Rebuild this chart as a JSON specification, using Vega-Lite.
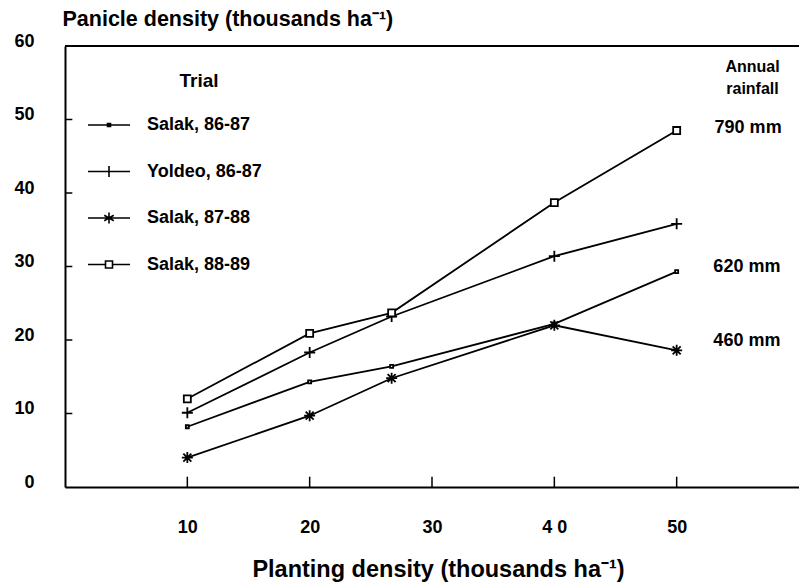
{
  "$schema": "https://vega.github.io/schema/vega-lite/v6.json",
  "width": 734,
  "height": 441,
  "autosize": "none",
  "padding": {"left": 65, "top": 46, "right": 0, "bottom": 100},
  "background": "white",
  "config": {
    "view": {"stroke": null},
    "font": "Liberation Sans",
    "axis": {"labelFlush": false, "labelOverlap": false, "labelBound": false}
  },
  "datasets": {
    "series": [
      {"trial": "Salak, 86-87", "density": 10, "panicles": 8.2},
      {"trial": "Salak, 86-87", "density": 20, "panicles": 14.3},
      {"trial": "Salak, 86-87", "density": 26.7, "panicles": 16.4},
      {"trial": "Salak, 86-87", "density": 40, "panicles": 22.2},
      {"trial": "Salak, 86-87", "density": 50, "panicles": 29.3},
      {"trial": "Yoldeo, 86-87", "density": 10, "panicles": 10.1},
      {"trial": "Yoldeo, 86-87", "density": 20, "panicles": 18.3},
      {"trial": "Yoldeo, 86-87", "density": 26.7, "panicles": 23.2},
      {"trial": "Yoldeo, 86-87", "density": 40, "panicles": 31.4},
      {"trial": "Yoldeo, 86-87", "density": 50, "panicles": 35.8},
      {"trial": "Salak, 87-88", "density": 10, "panicles": 4.0},
      {"trial": "Salak, 87-88", "density": 20, "panicles": 9.7},
      {"trial": "Salak, 87-88", "density": 26.7, "panicles": 14.8},
      {"trial": "Salak, 87-88", "density": 40, "panicles": 22.0},
      {"trial": "Salak, 87-88", "density": 50, "panicles": 18.6},
      {"trial": "Salak, 88-89", "density": 10, "panicles": 12.0},
      {"trial": "Salak, 88-89", "density": 20, "panicles": 20.9},
      {"trial": "Salak, 88-89", "density": 26.7, "panicles": 23.7},
      {"trial": "Salak, 88-89", "density": 40, "panicles": 38.7},
      {"trial": "Salak, 88-89", "density": 50, "panicles": 48.5}
    ],
    "xticks": [{"v": 10}, {"v": 20}, {"v": 30}, {"v": 40}, {"v": 50}],
    "yticks": [{"v": 10}, {"v": 20}, {"v": 30}, {"v": 40}, {"v": 50}],
    "rainfall": [
      {"x": 53.1, "y": 48.9, "label": "790 mm"},
      {"x": 53.0, "y": 30.0, "label": "620 mm"},
      {"x": 53.0, "y": 19.9, "label": "460 mm"}
    ],
    "headers": [
      {"x": 56.2, "y": 57.1, "label": "Annual"},
      {"x": 56.2, "y": 54.1, "label": "rainfall"}
    ],
    "legendTitle": [
      {"x": 10.95, "y": 55.2, "label": "Trial"}
    ]
  },
  "layer": [
    {
      "data": {"values": [{"y": 60}]},
      "mark": {"type": "rule", "color": "black", "strokeWidth": 1.8},
      "encoding": {
        "y": {"field": "y", "type": "quantitative", "scale": {"domain": [0, 60], "nice": false}}
      }
    },
    {
      "data": {"name": "xticks"},
      "mark": {"type": "rule", "color": "black", "strokeWidth": 1.5},
      "encoding": {
        "x": {"field": "v", "type": "quantitative"},
        "y": {"datum": 0},
        "y2": {"datum": 1.4}
      }
    },
    {
      "data": {"name": "yticks"},
      "mark": {"type": "rule", "color": "black", "strokeWidth": 1.5},
      "encoding": {
        "y": {"field": "v", "type": "quantitative"},
        "x": {"datum": 0},
        "x2": {"datum": 0.6}
      }
    },
    {
      "data": {"name": "series"},
      "mark": {"type": "line", "color": "black", "strokeWidth": 1.8},
      "encoding": {
        "x": {
          "field": "density", "type": "quantitative",
          "scale": {"domain": [0, 60], "nice": false},
          "axis": {
            "values": [10, 20, 30, 40, 50],
            "grid": false, "ticks": false,
            "domainColor": "black", "domainWidth": 2,
            "labelFont": "Liberation Sans", "labelFontWeight": "bold", "labelFontSize": 18,
            "labelColor": "black", "labelBaseline": "middle", "labelPadding": 40,
            "labelExpr": "datum.value == 40 ? '4 0' : datum.label",
            "title": "Planting density (thousands ha⁻¹)",
            "titleFont": "Liberation Sans", "titleFontSize": 23.5, "titleFontWeight": "bold",
            "titleColor": "black", "titleX": 373, "titleY": 82,
            "titleAlign": "center", "titleBaseline": "middle"
          }
        },
        "y": {
          "field": "panicles", "type": "quantitative",
          "scale": {"domain": [0, 60], "nice": false},
          "axis": {
            "values": [0, 10, 20, 30, 40, 50, 60],
            "grid": false, "ticks": false,
            "domainColor": "black", "domainWidth": 2,
            "labelFont": "Liberation Sans", "labelFontWeight": "bold", "labelFontSize": 18,
            "labelColor": "black", "labelAlign": "right", "labelBaseline": "middle",
            "labelPadding": 31, "labelOffset": -5,
            "title": "Panicle density (thousands ha⁻¹)",
            "titleFont": "Liberation Sans", "titleFontSize": 21.5, "titleFontWeight": "bold",
            "titleColor": "black", "titleAngle": 0, "titleX": -3, "titleY": -27,
            "titleAlign": "left", "titleBaseline": "middle"
          }
        },
        "detail": {"field": "trial", "type": "nominal"}
      }
    },
    {
      "data": {"name": "series"},
      "mark": {"type": "point", "filled": true, "fill": "white", "stroke": "black", "strokeWidth": 1.8, "size": 100, "opacity": 1},
      "encoding": {
        "x": {"field": "density", "type": "quantitative"},
        "y": {"field": "panicles", "type": "quantitative"},
        "shape": {
          "field": "trial", "type": "nominal",
          "scale": {
            "domain": ["Salak, 86-87", "Yoldeo, 86-87", "Salak, 87-88", "Salak, 88-89"],
            "range": [
              "M-0.3,-0.3H0.3V0.3H-0.3Z",
              "M0,-1.1V1.1M-1.1,0H1.1",
              "M0,-1.1V1.1M-1.1,0H1.1M-0.8,-0.8L0.8,0.8M-0.8,0.8L0.8,-0.8",
              "M-0.7,-0.7H0.7V0.7H-0.7Z"
            ]
          },
          "legend": null
        }
      }
    },
    {
      "data": {"name": "series"},
      "transform": [{"filter": "false"}],
      "mark": {"type": "point", "filled": false, "color": "black", "strokeWidth": 1.6, "size": 100, "opacity": 1},
      "encoding": {
        "x": {"field": "density", "type": "quantitative"},
        "y": {"field": "panicles", "type": "quantitative"},
        "shape": {
          "field": "trial", "type": "nominal",
          "scale": {
            "domain": ["Salak, 86-87", "Yoldeo, 86-87", "Salak, 87-88", "Salak, 88-89"],
            "range": [
              "M-4.2,0H4.2M-0.3,-0.3H0.3V0.3H-0.3Z",
              "M-4.2,0H4.2M0,-1.1V1.1",
              "M-4.2,0H4.2M0,-1.1V1.1M-0.95,-0.55L0.95,0.55M-0.95,0.55L0.95,-0.55",
              "M-4.2,0H-0.7M0.7,0H4.2M-0.7,-0.7H0.7V0.7H-0.7Z"
            ]
          },
          "legend": {
            "title": null,
            "orient": "none",
            "legendX": 35,
            "legendY": 70,
            "padding": 0,
            "symbolSize": 100,
            "symbolStrokeColor": "black",
            "symbolStrokeWidth": 1.6,
            "symbolOpacity": 1,
            "labelFont": "Liberation Sans",
            "labelFontWeight": "bold",
            "labelFontSize": 18,
            "labelColor": "black",
            "labelOffset": 29,
            "rowPadding": 28.5,
            "labelLimit": 300
          }
        }
      }
    },
    {
      "data": {"name": "rainfall"},
      "mark": {"type": "text", "align": "left", "baseline": "middle", "font": "Liberation Sans", "fontWeight": "bold", "fontSize": 18, "color": "black"},
      "encoding": {
        "x": {"field": "x", "type": "quantitative"},
        "y": {"field": "y", "type": "quantitative"},
        "text": {"field": "label"}
      }
    },
    {
      "data": {"name": "headers"},
      "mark": {"type": "text", "align": "center", "baseline": "middle", "font": "Liberation Sans", "fontWeight": "bold", "fontSize": 16, "color": "black"},
      "encoding": {
        "x": {"field": "x", "type": "quantitative"},
        "y": {"field": "y", "type": "quantitative"},
        "text": {"field": "label"}
      }
    },
    {
      "data": {"name": "legendTitle"},
      "mark": {"type": "text", "align": "center", "baseline": "middle", "font": "Liberation Sans", "fontWeight": "bold", "fontSize": 19, "color": "black"},
      "encoding": {
        "x": {"field": "x", "type": "quantitative"},
        "y": {"field": "y", "type": "quantitative"},
        "text": {"field": "label"}
      }
    }
  ],
  "resolve": {"scale": {"shape": "independent"}}
}
